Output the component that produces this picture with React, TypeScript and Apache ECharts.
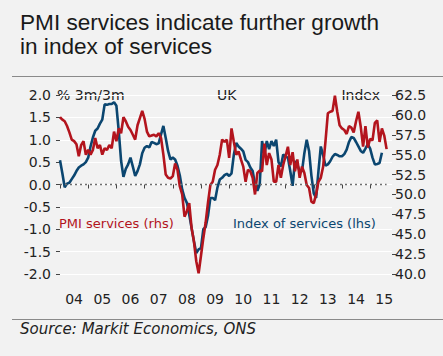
import { useEffect, useRef } from "react";
import * as echarts from "echarts";

const yearLabels = ["04", "05", "06", "07", "08", "09", "10", "11", "12", "13", "14", "15"];

// PMI services (rhs), monthly Jan 2004 - Aug 2015
const pmiServices = [
  59.7, 59.4, 59.2, 58.6, 57.8, 56.9, 56.7, 56.3, 54.8, 56.2, 56.7, 55.0,
  55.6, 55.0, 55.6, 57.1, 55.8, 56.2, 55.0, 55.8, 55.6, 56.2, 55.8, 57.9,
  56.7, 58.3, 57.7, 59.7, 59.2, 58.5, 58.1, 57.5, 56.9, 58.7, 59.6, 60.5,
  59.5, 57.9, 57.3, 57.4, 57.5, 57.3, 57.7, 57.1, 55.0, 52.5, 52.1, 52.0,
  52.3, 53.9, 53.1, 51.0, 50.0, 47.2, 47.9, 48.9, 45.8, 44.1, 41.6, 40.1,
  42.3, 44.5, 46.5, 49.0, 51.2, 51.6, 53.1, 53.7, 55.0, 56.9, 56.6, 56.9,
  54.6, 58.3, 56.6, 55.0, 55.4, 54.4, 53.5, 51.6, 53.1, 52.9, 52.1, 50.0,
  52.7, 53.0, 52.9, 56.4, 53.7, 55.2, 54.4, 51.6, 51.6, 53.7, 52.1, 53.7,
  54.8, 56.0, 53.7, 55.3, 52.9, 54.4, 52.1, 53.5, 52.7, 51.2, 50.8, 49.1,
  48.9, 50.0, 51.6, 52.1, 53.5, 56.7, 60.2, 60.4, 60.5, 62.4, 60.4, 58.7,
  58.3, 58.1, 57.6, 58.6, 58.4, 57.8, 59.2, 60.4, 58.5, 56.0, 58.6, 55.9,
  57.0, 56.8, 59.0, 59.3, 56.6, 58.3, 57.4, 55.7,
];

// Index of services, % 3m/3m (lhs), monthly Jan 2004 - Jun 2015
const indexOfServices = [
  0.54, 0.25, -0.06, 0.02, 0.04, 0.12, 0.2, 0.3, 0.38, 0.42, 0.45, 0.5,
  0.6, 0.85, 1.05, 1.2, 1.25, 1.36, 1.45, 1.79, 1.78, 1.8, 1.8, 1.84,
  1.76, 1.2, 0.53, 0.17, 0.35, 0.45, 0.6, 0.4, 0.19, 0.3, 0.45, 0.7,
  0.82, 0.86, 0.83, 0.95, 0.93, 0.9, 0.92, 1.12, 1.31, 1.04, 0.75, 0.56,
  0.6, 0.56, 0.42, 0.2, -0.11, -0.3, -0.41, -0.67, -0.97, -1.27, -1.53, -1.45,
  -1.42, -1.0, -0.95, -0.7, -0.3, -0.3, -0.35, -0.07, 0.11, 0.15, 0.21, 0.24,
  0.19, 0.25, 0.67, 0.93, 0.85, 0.8, 0.74, 0.55, 0.5, 0.38, 0.3, 0.0,
  -0.14, 0.0, 0.97, 0.67, 0.97, 0.79, 0.97, 0.86, 1.0, 0.5, 0.4, 0.67,
  0.62, 0.6, 0.3, -0.03, 0.52, 0.45, 0.3, 0.3, 0.7, 1.0, 0.75, 0.2,
  -0.2, -0.3, 0.3, 0.85, 0.65, 0.42, 0.45, 0.52, 0.62, 0.68, 0.66, 0.63,
  0.63, 0.68, 0.78, 0.95, 1.06, 1.04, 0.95, 0.85, 0.75, 0.71, 0.8, 0.9,
  0.8, 0.6, 0.45, 0.46, 0.48, 0.71,
];

const RED = "#b3141d";
const BLUE = "#0b4670";
const TEXT = "#222222";
const FONT = "DejaVu Sans";

export default function App() {
  const ref = useRef<HTMLDivElement>(null);

  useEffect(() => {
    document.body.style.margin = "0";
    document.body.style.background = "#f2f2f2";
    const chart = echarts.init(ref.current!, null, { renderer: "svg" });
    const tickValues = yearLabels.map((_, i) => i * 12);
    const labelValues = yearLabels.map((_, i) => i * 12 + 6);

    chart.setOption({
      animation: false,
      backgroundColor: "#f2f2f2",
      textStyle: { fontFamily: FONT },
      grid: { left: 56, right: 51, top: 95, bottom: 82 },
      xAxis: {
        type: "value",
        min: -1.7,
        max: 141.3,
        offset: 10,
        axisLine: { show: false },
        splitLine: { show: false },
        axisTick: {
          show: true,
          customValues: tickValues,
          length: 4,
          lineStyle: { color: "#444", width: 1 },
        },
        axisLabel: {
          customValues: labelValues,
          formatter: (v: number) => yearLabels[Math.round((v - 6) / 12)] ?? "",
          color: TEXT,
          fontSize: 14,
          fontFamily: FONT,
          margin: 8,
        },
      },
      yAxis: [
        {
          type: "value",
          position: "left",
          min: -2,
          max: 2,
          interval: 0.5,
          axisLine: { show: false },
          axisTick: { show: true, length: 4, lineStyle: { color: "#444" } },
          axisLabel: {
            formatter: (v: number) => v.toFixed(1),
            color: TEXT,
            fontSize: 14,
            fontFamily: FONT,
            margin: 5,
          },
          splitLine: { show: true, lineStyle: { color: "#ffffff", width: 1.2 } },
        },
        {
          type: "value",
          position: "right",
          min: 40,
          max: 62.5,
          interval: 2.5,
          axisLine: { show: false },
          axisTick: { show: true, length: 4, lineStyle: { color: "#444" } },
          axisLabel: {
            formatter: (v: number) => v.toFixed(1),
            color: TEXT,
            fontSize: 14,
            fontFamily: FONT,
            margin: 3,
          },
          splitLine: { show: false },
        },
      ],
      series: [
        {
          name: "Index of services (lhs)",
          type: "line",
          yAxisIndex: 0,
          data: indexOfServices.map((v, i) => [i, v]),
          showSymbol: false,
          lineStyle: { color: BLUE, width: 2.6 },
          itemStyle: { color: BLUE },
          z: 3,
          markLine: {
            silent: true,
            symbol: "none",
            label: { show: false },
            lineStyle: { color: "#6f6f6f", type: [2, 3], width: 1.3 },
            data: [[{ coord: [0, 0] }, { coord: [139, 0] }]],
          },
        },
        {
          name: "PMI services (rhs)",
          type: "line",
          yAxisIndex: 1,
          data: pmiServices.map((v, i) => [i, v]),
          showSymbol: false,
          lineStyle: { color: RED, width: 2.6 },
          itemStyle: { color: RED },
          z: 4,
        },
      ],
      graphic: [
        {
          type: "text",
          left: 20,
          top: 10,
          style: {
            text: "PMI services indicate further growth\nin index of services",
            fontSize: 22.6,
            lineHeight: 24,
            fontFamily: "Liberation Sans",
            fill: "#1a1a1a",
          },
        },
        {
          type: "line",
          shape: { x1: 12, y1: 76.5, x2: 443, y2: 76.5 },
          style: { stroke: "#8a8a8a", lineWidth: 1.2 },
        },
        {
          type: "line",
          shape: { x1: 12, y1: 319.5, x2: 443, y2: 319.5 },
          style: { stroke: "#8a8a8a", lineWidth: 1.2 },
        },
        {
          type: "text",
          x: 20,
          y: 329,
          style: { text: "Source: Markit Economics, ONS", fontSize: 15, fontStyle: "italic", fontFamily: FONT, fill: "#222", textVerticalAlign: "middle" },
        },
        {
          type: "text",
          x: 57,
          y: 95,
          style: { text: "% 3m/3m", fontSize: 14, fontFamily: FONT, fill: TEXT, textVerticalAlign: "middle" },
        },
        {
          type: "text",
          x: 217,
          y: 95,
          style: { text: "UK", fontSize: 14, fontFamily: FONT, fill: TEXT, textVerticalAlign: "middle" },
        },
        {
          type: "text",
          x: 380,
          y: 95,
          style: { text: "Index", fontSize: 14, fontFamily: FONT, fill: TEXT, textAlign: "right", textVerticalAlign: "middle" },
        },
        {
          type: "text",
          x: 59,
          y: 223,
          style: { text: "PMI services (rhs)", fontSize: 13, fontFamily: FONT, fill: RED, textVerticalAlign: "middle" },
        },
        {
          type: "text",
          x: 233,
          y: 223,
          style: { text: "Index of services (lhs)", fontSize: 13, fontFamily: FONT, fill: BLUE, textVerticalAlign: "middle" },
        },
      ],
    });
    return () => chart.dispose();
  }, []);

  return (
    <div
      ref={ref}
      style={{ position: "absolute", left: 0, top: 0, width: 443, height: 356, background: "#f2f2f2" }}
    />
  );
}
